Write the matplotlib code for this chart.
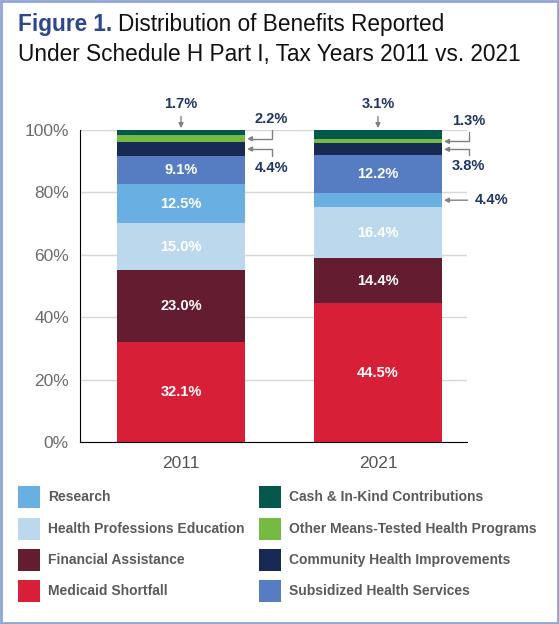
import matplotlib
matplotlib.use('Agg')
import matplotlib.pyplot as plt
from matplotlib.patches import Rectangle

plt.rcParams['font.family'] = ['Liberation Sans', 'DejaVu Sans']

# data
years = ['2011', '2021']
categories = ['Medicaid Shortfall', 'Financial Assistance', 'Health Professions Education',
              'Research', 'Subsidized Health Services', 'Community Health Improvements',
              'Other Means-Tested Health Programs', 'Cash & In-Kind Contributions']
values_2011 = [32.1, 23.0, 15.0, 12.5, 9.1, 4.4, 2.2, 1.7]
values_2021 = [44.5, 14.4, 16.4, 4.4, 12.2, 3.8, 1.3, 3.1]
colors = ['#d81f38', '#641c31', '#bcd8ec', '#6aafe2', '#567dc1', '#172a54', '#75ba43', '#04594a']
# which segments get a label inside the bar
inside_2011 = [True, True, True, True, True, False, False, False]
inside_2021 = [True, True, True, False, True, False, False, False]

label_col = '#1f3566'
arrow_col = '#808080'

W, H = 559, 624
fig = plt.figure(figsize=(5.59, 6.24), dpi=100)
ax = fig.add_axes([80/W, 1-442/H, (467-80)/W, (442-130)/H])

series = [values_2011, values_2021]
insides = [inside_2011, inside_2021]
w = 0.65
for i, vals in enumerate(series):
    bottom = 0
    for j, v in enumerate(vals):
        ax.bar(i, v, width=w, bottom=bottom, color=colors[j], zorder=3)
        if insides[i][j]:
            ax.text(i, bottom + v/2, f'{v:.1f}%', ha='center', va='center',
                    color='white', fontsize=10.5, fontweight='bold', zorder=4)
        bottom += v

ax.set_xlim(-0.513, 1.452)
ax.set_ylim(0, 100)
ax.set_yticks([0, 20, 40, 60, 80, 100])
ax.set_yticklabels(['0%', '20%', '40%', '60%', '80%', '100%'], color='#6b6b6b', fontsize=12.5)
ax.set_xticks([0, 1])
ax.set_xticklabels(years, color='#555555', fontsize=12.5)
ax.tick_params(length=0, pad=8)
ax.tick_params(axis='x', pad=10)
ax.grid(axis='y', color='#d6d6d6', lw=1, zorder=0)
for s in ['top', 'right']:
    ax.spines[s].set_visible(False)
ax.spines['left'].set_zorder(5)
ax.spines['bottom'].set_zorder(5)

def mid(vals, j):
    lo = sum(vals[:j])
    return lo + vals[j]/2

edge = w/2
arr = dict(arrowstyle='-|>', color=arrow_col, lw=1, mutation_scale=7, shrinkA=0, shrinkB=0)
elbow = dict(arr, connectionstyle='angle,angleA=90,angleB=0,rad=0')
lab = dict(ha='center', va='center', color=label_col, fontsize=10.5, fontweight='bold')

# top labels (cash & in-kind)
for i, vals in enumerate(series):
    ax.text(i, 108.2, f'{vals[7]:.1f}%', clip_on=False, **lab)
    ax.annotate('', xy=(i, 100.6), xytext=(i, 104.3), arrowprops=arr, annotation_clip=False)

# 2011 side labels
ax.annotate('', xy=(edge + 0.01, mid(values_2011, 6)), xytext=(0.46, 100),
            arrowprops=elbow, annotation_clip=False)
ax.text(0.46, 103.6, f'{values_2011[6]:.1f}%', **lab)
ax.annotate('', xy=(edge + 0.01, mid(values_2011, 5)), xytext=(0.46, 91.7),
            arrowprops=elbow, annotation_clip=False)
ax.text(0.46, 87.8, f'{values_2011[5]:.1f}%', **lab)

# 2021 side labels
ax.annotate('', xy=(1 + edge + 0.01, mid(values_2021, 6)), xytext=(1.46, 99.2),
            arrowprops=elbow, annotation_clip=False)
ax.text(1.46, 102.8, f'{values_2021[6]:.1f}%', **lab)
ax.annotate('', xy=(1 + edge + 0.01, mid(values_2021, 5)), xytext=(1.46, 92),
            arrowprops=elbow, annotation_clip=False)
ax.text(1.46, 88.6, f'{values_2021[5]:.1f}%', **lab)
ax.annotate(f'{values_2021[3]:.1f}%', xy=(1 + edge + 0.01, mid(values_2021, 3)),
            xytext=(1.49, mid(values_2021, 3)), arrowprops=dict(arr, shrinkA=3),
            annotation_clip=False, **dict(lab, ha='left'))

# title
t1 = fig.text(18/W, 1-24/H, 'Figure 1.', color='#2c4690', fontsize=16.3, fontweight='bold', va='center')
r = fig.canvas.get_renderer()
x_end = t1.get_window_extent(r).x1
fig.text((x_end + 6)/W, 1-24/H, 'Distribution of Benefits Reported', color='#111111',
         fontsize=16.3, va='center')
fig.text(18/W, 1-55/H, 'Under Schedule H Part I, Tax Years 2011 vs. 2021', color='#111111',
         fontsize=16.3, va='center')

# legend, drawn by hand in two columns
leg_order = [3, 2, 1, 0, 7, 6, 5, 4]
row_y = [497, 529, 560, 591]
col_x = [18, 259]
for n, k in enumerate(leg_order):
    cx = col_x[n // 4]
    cy = row_y[n % 4]
    fig.patches.append(Rectangle((cx/W, 1-(cy+11)/H), 22/W, 22/H, transform=fig.transFigure,
                                 facecolor=colors[k], edgecolor='none'))
    fig.text((cx + 30)/W, 1-cy/H, categories[k], color='#5a5a5a', fontsize=10,
             fontweight='bold', va='center')

# border
fig.patches.append(Rectangle((0.002, 0.002), 0.996, 0.996, transform=fig.transFigure,
                             fill=False, edgecolor='#8fa5d6', lw=2))

fig.savefig('out.png', dpi=100)
